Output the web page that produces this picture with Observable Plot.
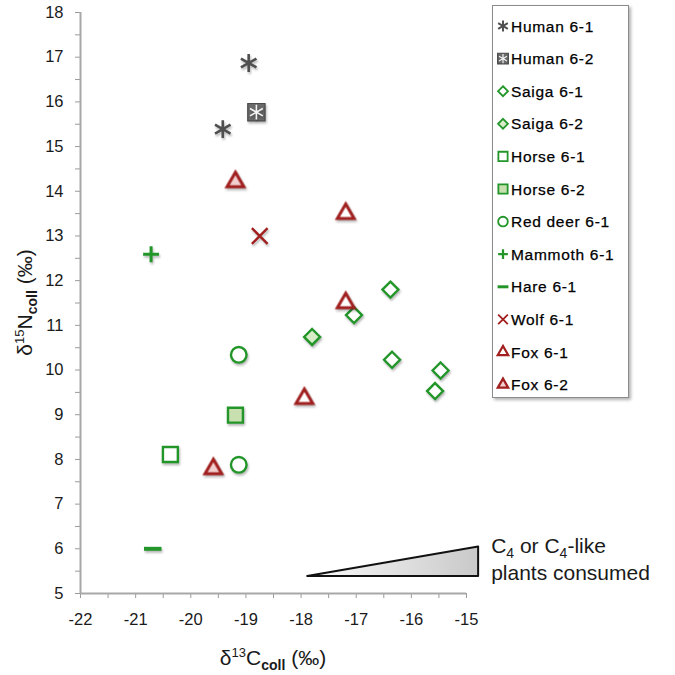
<!DOCTYPE html>
<html><head><meta charset="utf-8">
<script src="https://cdn.jsdelivr.net/npm/d3@7"></script>
<script src="https://cdn.jsdelivr.net/npm/@observablehq/plot@0.6"></script>
<style>
body{margin:0;background:#fff;font-family:"Liberation Sans",Arial,sans-serif;}
#wrap{position:relative;width:675px;height:675px;overflow:hidden;}
#wrap svg g[aria-label="dot"]{filter:drop-shadow(1px 2px 1.2px rgba(0,0,0,0.28));}
#legend{position:absolute;left:492px;top:5px;width:135px;height:391px;border:1.5px solid #8c8c8c;box-shadow:2px 2px 3px rgba(0,0,0,0.3);background:#fff;}
</style></head><body><div id="wrap"><div id="legend"></div></div>
<script>
// ---------- data ----------
const groups = ["Human 6-1","Human 6-2","Saiga 6-1","Saiga 6-2","Horse 6-1","Horse 6-2","Red deer 6-1","Mammoth 6-1","Hare 6-1","Wolf 6-1","Fox 6-1","Fox 6-2"];
const sampleGroup = ["Human 6-1","Human 6-1","Human 6-2",
  "Saiga 6-1","Saiga 6-1","Saiga 6-1","Saiga 6-1","Saiga 6-1","Saiga 6-2",
  "Horse 6-1","Horse 6-2","Red deer 6-1","Red deer 6-1","Mammoth 6-1","Hare 6-1","Wolf 6-1",
  "Fox 6-1","Fox 6-1","Fox 6-1","Fox 6-2","Fox 6-2"];
const d13C = [-18.95,-19.42,-18.81,
  -16.38,-17.04,-16.35,-15.47,-15.57,-17.80,
  -20.37,-19.19,-19.13,-19.13,-20.72,-20.69,-18.75,
  -17.19,-17.19,-17.94,-19.19,-19.59];
const d15N = [16.87,15.39,15.77,
  11.80,11.23,10.23,9.99,9.53,10.74,
  8.11,8.99,10.34,7.88,12.59,6.00,13.00,
  13.50,11.50,9.36,14.21,7.79];
const xTicks = [-22,-21,-20,-19,-18,-17,-16,-15];
const yTicks = [5,6,7,8,9,10,11,12,13,14,15,16,17,18];
const xMinor = [-21.5,-20.5,-19.5,-18.5,-17.5,-16.5,-15.5];
const yMinor = [5.5,6.5,7.5,8.5,9.5,10.5,11.5,12.5,13.5,14.5,15.5,16.5,17.5];
// C4 wedge annotation (data coordinates)
const wedgeX = [-17.88,-14.78];
const wedgeLow = [5.38,5.38];
const wedgeHigh = [5.38,6.04];

const points = sampleGroup.map((g,i)=>({group:g, x:d13C[i], y:d15N[i]}));
const wedge = wedgeX.map((x,i)=>({x, y1:wedgeLow[i], y2:wedgeHigh[i]}));

// ---------- styles ----------
const GREEN="#23962a", RED="#a11f1f", GRAY="#4f4f4f";
const dash = {draw(ctx,size){const h=Math.sqrt(size/Math.PI)*1.25; ctx.moveTo(-h,0); ctx.lineTo(h,0);}};
const styleOf = {
  "Human 6-1":[{symbol:"asterisk",r:8.5,stroke:GRAY,fill:"none",sw:2.6}],
  "Human 6-2":[{symbol:"square2",r:11,stroke:"#4a4a4a",fill:"#6a6a6a",sw:1.2},{symbol:"asterisk",r:7,stroke:"#f4f4f4",fill:"none",sw:1.6}],
  "Saiga 6-1":[{symbol:"diamond2",r:7.2,stroke:GREEN,fill:"white",sw:2.4}],
  "Saiga 6-2":[{symbol:"diamond2",r:7.2,stroke:GREEN,fill:"#d9ecc8",sw:2.4}],
  "Horse 6-1":[{symbol:"square2",r:9.5,stroke:GREEN,fill:"white",sw:2.4}],
  "Horse 6-2":[{symbol:"square2",r:9.5,stroke:GREEN,fill:"#c8e0b0",sw:2.4}],
  "Red deer 6-1":[{symbol:"circle",r:7.8,stroke:GREEN,fill:"white",sw:2.4}],
  "Mammoth 6-1":[{symbol:"plus",r:5.2,stroke:GREEN,fill:"none",sw:3}],
  "Hare 6-1":[{symbol:dash,r:7,stroke:GREEN,fill:"none",sw:4}],
  "Wolf 6-1":[{symbol:"times",r:7.2,stroke:RED,fill:"none",sw:2.4}],
  "Fox 6-1":[{symbol:"triangle2",r:8,stroke:RED,fill:"white",sw:3}],
  "Fox 6-2":[{symbol:"triangle2",r:8,stroke:RED,fill:"#f1cfcf",sw:3}]
};

const dotMarks = [];
for (const g of groups) {
  for (const s of styleOf[g]) {
    dotMarks.push(Plot.dot(points,{filter:d=>d.group===g, x:"x", y:"y", symbol:s.symbol, r:s.r, stroke:s.stroke, fill:s.fill, strokeWidth:s.sw}));
  }
}
const fmt = d => String(d);

const plot = Plot.plot({
  width:675, height:675,
  marginLeft:80, marginRight:209, marginTop:12, marginBottom:82,
  x:{domain:[-22,-15]}, y:{domain:[5,18]},
  style:{fontFamily:"'Liberation Sans',Arial,sans-serif", fontSize:"16px", color:"#222", background:"transparent", overflow:"visible"},
  marks:[
    Plot.axisX({ticks:xMinor, tickSize:5, tickFormat:()=>"", stroke:"#9a9a9a", label:null}),
    Plot.axisX({ticks:xTicks, tickSize:5, tickPadding:15, tickFormat:fmt, fontSize:16.5, fill:"#1a1a1a", stroke:"#9a9a9a", label:null}),
    Plot.axisY({ticks:yMinor, tickSize:5, tickFormat:()=>"", stroke:"#9a9a9a", label:null}),
    Plot.axisY({ticks:yTicks, tickSize:5, tickPadding:12, tickFormat:fmt, fontSize:16.5, fill:"#1a1a1a", stroke:"#9a9a9a", label:null}),
    Plot.ruleY([5],{stroke:"#a8a8a8", strokeWidth:2}),
    Plot.ruleX([-22],{stroke:"#a8a8a8", strokeWidth:2}),
    Plot.areaY(wedge,{x:"x", y1:"y1", y2:"y2", fill:"url(#wg)", stroke:"#111", strokeWidth:2, strokeLinejoin:"round"}),
    ...dotMarks
  ]
});
document.getElementById("wrap").prepend(plot);

const svg = d3.select(plot);
const defs = svg.insert("defs",":first-child");
const grad = defs.append("linearGradient").attr("id","wg").attr("x1","0").attr("x2","1").attr("y1","0").attr("y2","0");
grad.append("stop").attr("offset","0").attr("stop-color","#fbfbfb");
grad.append("stop").attr("offset","1").attr("stop-color","#c9c9c9");

const sx = plot.scale("x"), sy = plot.scale("y");
// axis titles
const font = "'Liberation Sans',Arial,sans-serif";
function sciLabel(sel, iso, el){
  sel.append("tspan").text("δ");
  sel.append("tspan").attr("font-size","13px").attr("dy","-8").text(iso);
  sel.append("tspan").attr("dy","8").text(el);
  sel.append("tspan").attr("font-size","14px").attr("dy","5").attr("font-weight","bold").text("coll");
  sel.append("tspan").attr("dy","-5").text(" (‰)");
}
const xl = svg.append("text").attr("x", (sx.apply(-22)+sx.apply(-15))/2).attr("y", 665)
  .attr("text-anchor","middle").attr("font-family",font).attr("font-size","21px").attr("fill","#1a1a1a");
sciLabel(xl,"13","C");
const yl = svg.append("text").attr("transform",`translate(32,${(sy.apply(5)+sy.apply(18))/2}) rotate(-90)`)
  .attr("text-anchor","middle").attr("font-family",font).attr("font-size","21px").attr("fill","#1a1a1a");
sciLabel(yl,"15","N");

// wedge label
const tx = sx.apply(wedgeX[1]) + 13;
const t1 = svg.append("text").attr("x",tx).attr("y",553).attr("text-anchor","start").attr("font-family",font).attr("font-size","21px").attr("fill","#1a1a1a");
t1.append("tspan").text("C");
t1.append("tspan").attr("font-size","14px").attr("dy","5").text("4");
t1.append("tspan").attr("dy","-5").text(" or C");
t1.append("tspan").attr("font-size","14px").attr("dy","5").text("4");
t1.append("tspan").attr("dy","-5").text("-like");
svg.append("text").attr("x",tx).attr("y",580).attr("text-anchor","start").attr("font-family",font).attr("font-size","21px").attr("fill","#1a1a1a").text("plants consumed");

// legend
const lg = d3.select("#legend").append("svg").attr("width",135).attr("height",391);
groups.forEach((g,i)=>{
  const y = 20 + i*32.6;
  for (const s of styleOf[g]) {
    const type = typeof s.symbol === "string" ? ({asterisk:d3.symbolAsterisk,square2:d3.symbolSquare2,diamond2:d3.symbolDiamond2,circle:d3.symbolCircle,plus:d3.symbolPlus,times:d3.symbolTimes,triangle2:d3.symbolTriangle2})[s.symbol] : s.symbol;
    const rr = s.r*0.62;
    lg.append("path").attr("d", d3.symbol(type, Math.PI*rr*rr)()).attr("transform",`translate(10,${y})`)
      .attr("fill",s.fill).attr("stroke",s.stroke).attr("stroke-width",Math.max(1.2,s.sw*0.75));
  }
  lg.append("text").attr("x",18).attr("y",y).attr("dy","0.36em").attr("font-family",font).attr("font-size","15.5px")
    .attr("letter-spacing","0.7px").attr("fill","#000").attr("stroke","#000").attr("stroke-width","0.25").text(g);
});
</script>
</body></html>
